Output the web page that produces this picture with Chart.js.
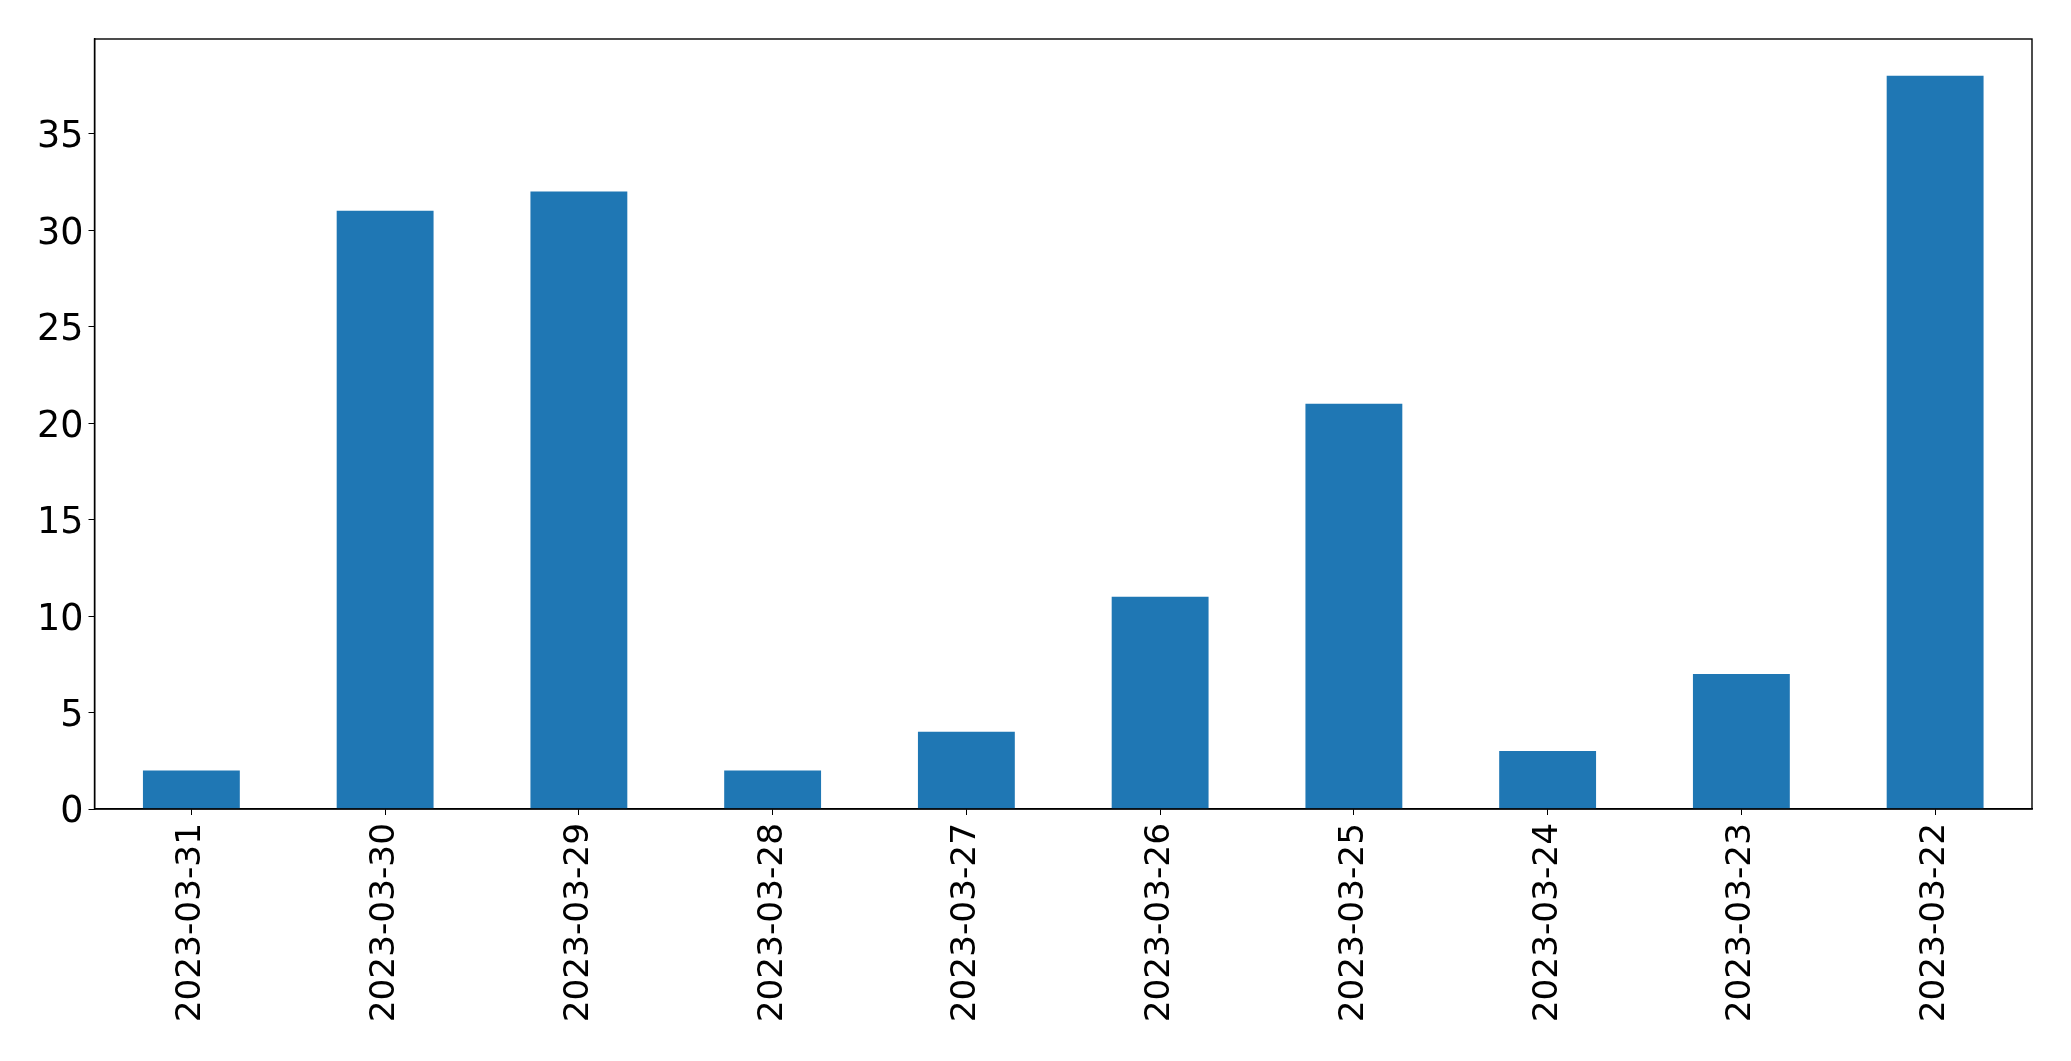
<!DOCTYPE html>
<html>
<head>
<meta charset="utf-8">
<script src="https://cdn.jsdelivr.net/npm/chart.js@4/dist/chart.umd.min.js"></script>
<style>
    html, body { margin: 0; padding: 0; background: #fff; }
    #wrap { width: 2071px; height: 1061px; }
</style>
</head>
<body>
<div id="wrap"><canvas id="grafico" width="2071" height="1061"></canvas></div>
<script>
const dias = ["2023-03-31", "2023-03-30", "2023-03-29", "2023-03-28", "2023-03-27",
    "2023-03-26", "2023-03-25", "2023-03-24", "2023-03-23", "2023-03-22"];
const valores = [2, 31, 32, 2, 4, 11, 21, 3, 7, 38];
const yTicks = [0, 5, 10, 15, 20, 25, 30, 35];

// moldura completa em volta da área do gráfico
const moldura = {
    id: "moldura",
    afterDraw(chart) {
        const { ctx, chartArea } = chart;
        ctx.save();
        ctx.strokeStyle = "#000";
        ctx.lineWidth = 1.4;
        ctx.strokeRect(chartArea.left, chartArea.top,
            chartArea.right - chartArea.left, chartArea.bottom - chartArea.top);
        ctx.restore();
    }
};

const fonteX = { family: "'DejaVu Sans', sans-serif", size: 34.3 };
const fonteY = { family: "'DejaVu Sans', sans-serif", size: 36.5 };

new Chart(document.getElementById("grafico"), {
    type: "bar",
    data: {
        labels: dias,
        datasets: [{
            data: valores,
            backgroundColor: "#1f77b4",
            borderWidth: 0,
            barPercentage: 0.5,
            categoryPercentage: 1.0
        }]
    },
    options: {
        responsive: false,
        animation: false,
        layout: { padding: { left: 0, top: 39, right: 39, bottom: 0 } },
        plugins: { legend: { display: false }, tooltip: { enabled: false } },
        scales: {
            x: {
                offset: true,
                grid: { drawOnChartArea: false, drawTicks: true, tickLength: 6, tickColor: "#000", offset: false },
                border: { color: "#000", width: 1.4 },
                ticks: { color: "#000", font: fonteX, minRotation: 90, maxRotation: 90, padding: 8, autoSkip: false },
                afterFit(scale) { scale.height = 252; }
            },
            y: {
                min: 0,
                max: 39.9,
                grid: { drawOnChartArea: false, drawTicks: true, tickLength: 6, tickColor: "#000" },
                border: { color: "#000", width: 1.4 },
                afterBuildTicks(scale) { scale.ticks = yTicks.map(v => ({ value: v })); },
                ticks: { color: "#000", font: fonteY, padding: 5, labelOffset: 4, includeBounds: false },
                afterFit(scale) { scale.width = 94.5; }
            }
        }
    },
    plugins: [moldura]
});
</script>
</body>
</html>
